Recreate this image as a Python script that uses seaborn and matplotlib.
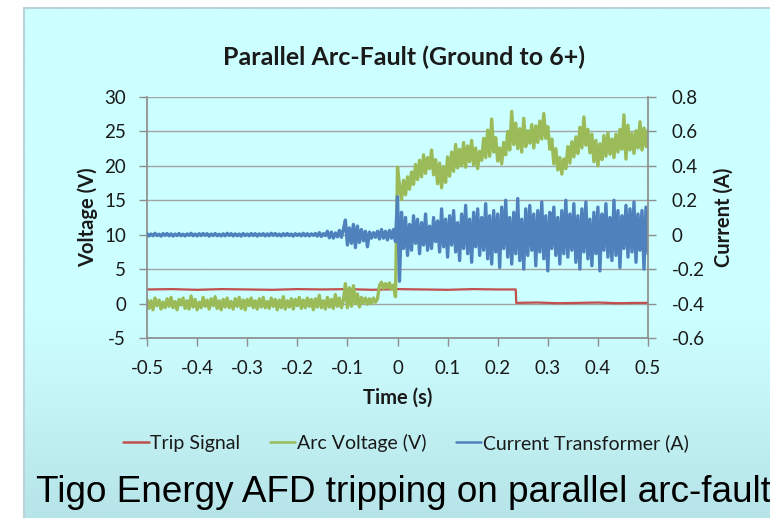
import numpy as np
import pandas as pd
import matplotlib
matplotlib.use('Agg')
import matplotlib.pyplot as plt
import matplotlib.colors as mcolors
import seaborn as sns

# sample times (s), 4 ms apart
time_s = np.round(np.linspace(-0.5, 0.5, 251), 3)

# arc voltage (V)
arc_voltage = [
    0.6, -0.7, 0.4, -0.9, 0.8, -0.3, 0.5, -0.8, 0.2, -0.6,
    0.7, -0.4, 0.9, -0.6, 0.3, -0.9, 0.6, -0.2, 0.8, -0.7,
    0.4, -0.8, 1.1, -0.5, 0.6, -0.9, 0.2, -0.6, 0.9, -0.4,
    0.5, -0.8, 0.7, -0.3, 1.0, -0.7, 0.4, -0.9, 0.6, -0.5,
    0.8, -0.6, 0.3, -0.8, 0.7, -0.4, 0.9, -0.7, 0.5, -0.9,
    0.6, -0.3, 0.8, -0.6, 0.4, -0.8, 0.7, -0.5, 0.9, -0.6,
    0.3, -0.7, 0.8, -0.4, 0.6, -0.9, 0.5, -0.6, 1.0, -0.8,
    0.4, -0.5, 0.7, -0.8, 0.6, -0.3, 0.9, -0.7, 0.5, -0.6,
    0.8, -0.4, 0.6, -0.9, 0.7, -0.5, 1.2, -0.6, 0.4, -0.8,
    0.9, -0.5, 0.6, -0.7, 1.3, -0.4, 0.8, -0.6, 0.5,
    2.9, -0.6, 2.3, -0.4, 2.6, 0.0, 1.4, -0.5, 0.9, 0.1,
    0.8, -0.1, 0.7, 0.0, 0.8, 0.2, 0.7,
    2.6, 3.1, 2.2, 2.9, 2.3, 3.0, 2.1, 2.7, 1.0,
    19.8, 17.2, 15.1, 17.9, 15.8, 18.4, 16.6, 19.1, 17.3, 20.2,
    18.0, 20.8, 18.4, 21.6, 18.9, 21.2, 19.6, 22.3, 18.7, 20.9,
    17.4, 20.4, 16.8, 19.9, 17.6, 21.3, 18.5, 22.0, 19.2, 23.1,
    19.7, 22.4, 20.0, 23.4, 19.8, 22.9, 20.6, 23.7, 20.1, 22.6,
    19.6, 22.1, 20.8, 24.0, 21.2, 25.2, 21.4, 26.8, 22.0, 24.1,
    20.7, 22.6, 20.3, 23.4, 21.6, 25.0, 22.3, 27.9, 23.1, 26.2,
    22.5, 25.4, 22.0, 26.9, 22.8, 25.1, 23.3, 26.0, 22.6, 25.8,
    23.4, 26.5, 23.9, 27.6, 24.0, 25.7, 22.4, 23.9, 20.3, 22.5,
    19.4, 21.2, 18.8, 21.0, 19.6, 22.8, 20.4, 23.5, 21.3, 24.2,
    21.8, 25.6, 22.6, 27.1, 23.0, 25.3, 21.9, 24.6, 20.6, 23.7,
    20.0, 23.2, 20.9, 24.4, 21.4, 24.8, 21.7, 23.9, 21.2, 24.6,
    22.0, 25.3, 22.4, 27.4, 21.0, 25.9, 22.3, 24.7, 21.8, 25.1,
    22.6, 26.4, 22.3, 25.5, 22.8, 25.2,
]

# current transformer output (A)
ct_current = [
    0.006, -0.007, 0.004, -0.006, 0.008, -0.005, 0.003, -0.008, 0.006, -0.004,
    0.007, -0.006, 0.005, -0.008, 0.004, -0.005, 0.007, -0.006, 0.003, -0.007,
    0.005, -0.004, 0.008, -0.006, 0.004, -0.007, 0.006, -0.005, 0.007, -0.004,
    0.006, -0.008, 0.004, -0.005, 0.007, -0.006, 0.003, -0.007, 0.005, -0.006,
    0.008, -0.004, 0.006, -0.007, 0.005, -0.006, 0.004, -0.008, 0.007, -0.005,
    0.004, -0.006, 0.007, -0.005, 0.006, -0.008, 0.005, -0.004, 0.006, -0.007,
    0.005, -0.006, 0.008, -0.004, 0.007, -0.006, 0.004, -0.007, 0.006, -0.005,
    0.007, -0.005, 0.004, -0.008, 0.006, -0.004, 0.005, -0.007, 0.008, -0.006,
    0.006, -0.007, 0.005, -0.004, 0.007, -0.008, 0.012, -0.010, 0.006, -0.005,
    0.02, -0.018, 0.015, -0.02, 0.01, -0.012, 0.025, -0.015, 0.03, 0.085,
    -0.06, 0.04, -0.05, 0.06, -0.075, 0.05, -0.045, 0.03, -0.035, 0.02,
    -0.07, 0.015, -0.02, 0.012, -0.015, 0.02, -0.025, 0.03, -0.02, 0.02,
    -0.03, 0.025, -0.02, 0.03, -0.04,
    0.22, -0.27, 0.13, -0.08, 0.10, -0.12, 0.06, -0.09, 0.11, -0.05,
    0.09, -0.11, 0.07, -0.06, 0.12, -0.09, 0.05, -0.08, 0.10, -0.04,
    0.08, -0.10, 0.15, -0.07, 0.09, -0.13, 0.11, -0.06, 0.14, -0.10,
    0.07, -0.15, 0.12, -0.08, 0.17, -0.11, 0.09, -0.16, 0.13, -0.07,
    0.15, -0.12, 0.10, -0.09, 0.18, -0.14, 0.11, -0.17, 0.14, -0.10,
    0.12, -0.19, 0.16, -0.08, 0.20, -0.13, 0.10, -0.17, 0.13, -0.11,
    0.21, -0.15, 0.09, -0.20, 0.15, -0.12, 0.17, -0.09, 0.12, -0.18,
    0.14, -0.10, 0.19, -0.14, 0.11, -0.21, 0.13, -0.08, 0.16, -0.12,
    0.10, -0.17, 0.14, -0.11, 0.20, -0.13, 0.12, -0.09, 0.18, -0.16,
    0.11, -0.20, 0.15, -0.10, 0.19, -0.14, 0.09, -0.18, 0.13, -0.11,
    0.16, -0.21, 0.12, -0.09, 0.18, -0.13, 0.10, -0.15, 0.20, -0.12,
    0.14, -0.19, 0.11, -0.08, 0.17, -0.13, 0.15, -0.10, 0.19, -0.16,
    0.12, -0.09, 0.14, -0.20, 0.16, -0.11,
]

# trip signal (V): high until the AFD trips at ~0.237 s
trip_time = [-0.5, -0.45, -0.4, -0.35, -0.3, -0.25, -0.2, -0.15, -0.1, -0.05,
             0.0, 0.05, 0.1, 0.15, 0.2, 0.236, 0.237, 0.28, 0.32, 0.36,
             0.4, 0.44, 0.48, 0.5]
trip_signal = [2.05, 2.1, 2.0, 2.1, 2.05, 2.0, 2.1, 2.05, 2.1, 2.0,
               2.1, 2.05, 2.0, 2.1, 2.05, 2.05, 0.1, 0.15, 0.05, 0.1,
               0.15, 0.05, 0.1, 0.1]

volt_ticks = [-5, 0, 5, 10, 15, 20, 25, 30]
amp_ticks = [-0.6, -0.4, -0.2, 0, 0.2, 0.4, 0.6, 0.8]
amp_labels = ['-0.6', '-0.4', '-0.2', '0', '0.2', '0.4', '0.6', '0.8']
time_ticks = [-0.5, -0.4, -0.3, -0.2, -0.1, 0, 0.1, 0.2, 0.3, 0.4, 0.5]
time_labels = ['-0.5', '-0.4', '-0.3', '-0.2', '-0.1', '0', '0.1', '0.2', '0.3', '0.4', '0.5']

df = pd.DataFrame({'time': time_s, 'voltage': arc_voltage, 'current': ct_current})
trip = pd.DataFrame({'time': trip_time, 'trip': trip_signal})

sns.set_theme(style='white')
plt.rcParams['font.family'] = ['Lato', 'DejaVu Sans']
plt.rcParams['axes.unicode_minus'] = False

W, H = 770, 518
fig = plt.figure(figsize=(W / 100, H / 100), dpi=100, facecolor='white')

# slide-like cyan background with a soft darker band at the bottom
bg = fig.add_axes([24 / W, 0, 1 - 24 / W, 1 - 8 / H], zorder=-5)
cmap = mcolors.LinearSegmentedColormap.from_list(
    'slide', [(0, '#b6e4e8'), (0.28, '#c8f8fa'), (0.4, '#ccffff'), (1, '#ccffff')])
bg.imshow(np.linspace(0, 1, 256).reshape(-1, 1), cmap=cmap, aspect='auto',
          origin='lower', extent=[0, 1, 0, 1])
bg.set_xlim(0, 1)
bg.set_ylim(0, 1)
bg.set_xticks([])
bg.set_yticks([])
for s in bg.spines.values():
    s.set_color('#b9d3d6')
    s.set_linewidth(1.5)
bg.spines['right'].set_visible(False)
bg.spines['bottom'].set_visible(False)

ax = fig.add_axes([147 / W, 1 - 338 / H, 501 / W, 241 / H])
ax.set_facecolor('none')

grey = '#8e8e8e'
ink = '#1a1a1a'
red, green, blue = '#c0504d', '#9bbb59', '#4f81bd'

sns.lineplot(data=trip, x='time', y='trip', ax=ax, color=red, lw=1.6,
             label='Trip Signal', legend=False)
sns.lineplot(data=df, x='time', y='voltage', ax=ax, color=green, lw=2.4,
             label='Arc Voltage (V)', legend=False)

ax2 = ax.twinx()
sns.lineplot(data=df, x='time', y='current', ax=ax2, color=blue, lw=2.4,
             label='Current Transformer (A)', legend=False)

ax.set_xlim(-0.5, 0.5)
ax.set_ylim(-5, 30)
ax2.set_ylim(-0.6, 0.8)
ax.set_yticks(volt_ticks)
ax.set_xticks(time_ticks)
ax.set_xticklabels(time_labels)
ax2.set_yticks(amp_ticks)
ax2.set_yticklabels(amp_labels)

ax.yaxis.grid(True, color='#a3a3a3', lw=1)
ax.set_axisbelow(True)

for name in ['top', 'right']:
    ax.spines[name].set_visible(False)
for name in ['top', 'left', 'bottom']:
    ax2.spines[name].set_visible(False)
ax.spines['left'].set_color(grey)
ax.spines['bottom'].set_color(grey)
ax2.spines['right'].set_color(grey)

ax.tick_params(axis='y', direction='out', length=6, width=1, color=grey,
               labelsize=13.5, pad=9, labelcolor=ink, left=True)
ax.tick_params(axis='x', direction='out', length=6, width=1, color=grey,
               labelsize=13.5, pad=10, labelcolor=ink, bottom=True)
ax2.tick_params(axis='y', direction='out', length=6, width=1, color=grey,
                labelsize=13.5, pad=11, labelcolor=ink, right=True)

ax.set_xlabel('Time (s)', fontsize=14.5, fontweight='bold', color=ink, va='center')
ax.set_ylabel('Voltage (V)', fontsize=14.5, fontweight='bold', color=ink, va='center')
ax2.set_ylabel('Current (A)', fontsize=14.5, fontweight='bold', color=ink, va='center')
ax.xaxis.set_label_coords(0.5, -(398 - 338) / 241)
ax.yaxis.set_label_coords(-(147 - 88) / 501, 0.5)
ax2.yaxis.set_label_coords((724 - 147) / 501, 0.5)

fig.text(404 / W, 1 - 57 / H, 'Parallel Arc-Fault (Ground to 6+)', ha='center', va='center',
         fontsize=18, fontweight='bold', color=ink)

h1, l1 = ax.get_legend_handles_labels()
h2, l2 = ax2.get_legend_handles_labels()
leg = fig.legend(h1 + h2, l1 + l2, loc='center', bbox_to_anchor=(406 / W, 1 - 443 / H),
                 ncol=3, frameon=False, fontsize=14, handlelength=1.3, handletextpad=0.1,
                 columnspacing=1.5, labelcolor=ink)
for line in leg.get_lines():
    line.set_linewidth(1.8)

# slide caption, running off the right edge as on the original slide
fig.text(36 / W, 1 - 492 / H, 'Tigo Energy AFD tripping on parallel arc-fault',
         ha='left', va='center', fontsize=26.6, family='Liberation Sans', color='black')

fig.savefig('out.png', dpi=100, facecolor=fig.get_facecolor())
